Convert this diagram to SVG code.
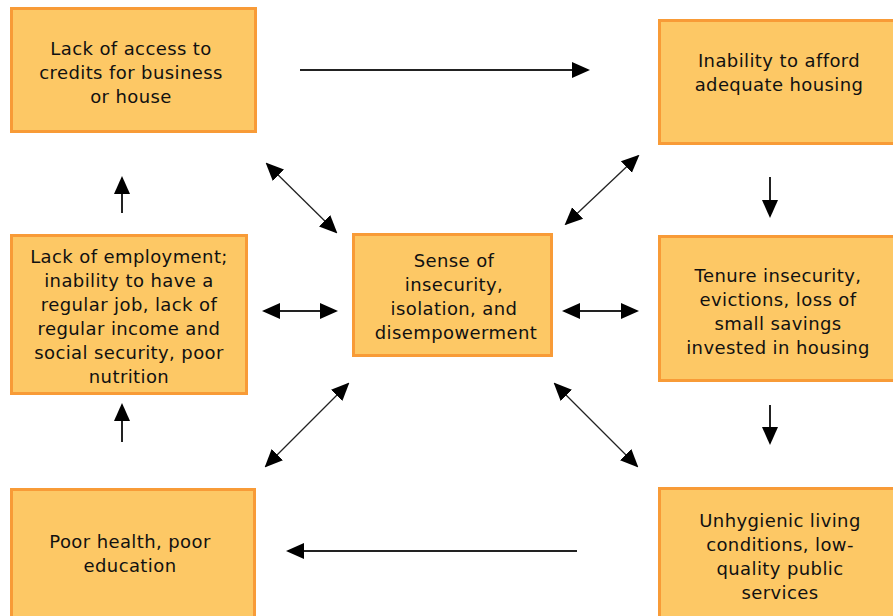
<svg xmlns="http://www.w3.org/2000/svg" width="893" height="616" viewBox="0 0 893 616">
<style>
.box{fill:#FDC865;stroke:#F89B37;stroke-width:3}
.t{font-family:"DejaVu Sans",sans-serif;font-size:18px;letter-spacing:0.4px;fill:#111;text-anchor:middle}
.c{stroke:#222;fill:none}
.th{stroke-width:2}
.tn{stroke-width:1.3}
</style>
<defs>
<marker id="ah" markerUnits="userSpaceOnUse" markerWidth="18" markerHeight="18" refX="16" refY="9" orient="auto-start-reverse" viewBox="0 0 18 18">
<path d="M0,1 L18,9 L0,17 Z" fill="#000"/>
</marker>
</defs>
<rect width="893" height="616" fill="#fff"/>
<g id="n1"><rect class="box" x="11.5" y="8.5" width="244" height="123"/>
<text class="t" x="131" y="55">Lack of access to</text>
<text class="t" x="131" y="79">credits for business</text>
<text class="t" x="131" y="103">or house</text></g>
<g id="n2"><rect class="box" x="659.5" y="20.5" width="250" height="123"/>
<text class="t" x="779" y="67">Inability to afford</text>
<text class="t" x="779" y="91">adequate housing</text></g>
<g id="n3"><rect class="box" x="353.5" y="234.5" width="198" height="121"/>
<text class="t" x="454" y="267">Sense of</text>
<text class="t" x="454" y="291">insecurity,</text>
<text class="t" x="454" y="315">isolation, and</text>
<text class="t" x="456" y="339">disempowerment</text></g>
<g id="n4"><rect class="box" x="11.5" y="235.5" width="235" height="158"/>
<text class="t" x="129" y="263">Lack of employment;</text>
<text class="t" x="129" y="287">inability to have a</text>
<text class="t" x="129" y="311">regular job, lack of</text>
<text class="t" x="129" y="335">regular income and</text>
<text class="t" x="129" y="359">social security, poor</text>
<text class="t" x="129" y="383">nutrition</text></g>
<g id="n5"><rect class="box" x="659.5" y="236.5" width="250" height="144"/>
<text class="t" x="778" y="282">Tenure insecurity,</text>
<text class="t" x="778" y="306">evictions, loss of</text>
<text class="t" x="778" y="330">small savings</text>
<text class="t" x="778" y="354">invested in housing</text></g>
<g id="n6"><rect class="box" x="11.5" y="489.5" width="243" height="140"/>
<text class="t" x="130" y="548">Poor health, poor</text>
<text class="t" x="130" y="572">education</text></g>
<g id="n7"><rect class="box" x="659.5" y="488.5" width="250" height="140"/>
<text class="t" x="780" y="527">Unhygienic living</text>
<text class="t" x="780" y="551">conditions, low-</text>
<text class="t" x="780" y="575">quality public</text>
<text class="t" x="780" y="599">services</text></g>
<g id="connectors">
<line class="c th" x1="300" y1="70" x2="588" y2="70" marker-end="url(#ah)"/>
<line class="c th" x1="577" y1="551" x2="288" y2="551" marker-end="url(#ah)"/>
<line class="c th" x1="122" y1="213" x2="122" y2="178" marker-end="url(#ah)"/>
<line class="c th" x1="122" y1="442" x2="122" y2="405" marker-end="url(#ah)"/>
<line class="c th" x1="770" y1="177" x2="770" y2="216" marker-end="url(#ah)"/>
<line class="c th" x1="770" y1="405" x2="770" y2="443" marker-end="url(#ah)"/>
<line class="c tn" x1="267" y1="164" x2="336" y2="232" marker-start="url(#ah)" marker-end="url(#ah)"/>
<line class="c tn" x1="638" y1="156" x2="566" y2="224" marker-start="url(#ah)" marker-end="url(#ah)"/>
<line class="c th" x1="264" y1="311" x2="336" y2="311" marker-start="url(#ah)" marker-end="url(#ah)"/>
<line class="c th" x1="564" y1="311" x2="637" y2="311" marker-start="url(#ah)" marker-end="url(#ah)"/>
<line class="c tn" x1="348" y1="384" x2="266" y2="466" marker-start="url(#ah)" marker-end="url(#ah)"/>
<line class="c tn" x1="555" y1="384" x2="637" y2="466" marker-start="url(#ah)" marker-end="url(#ah)"/>
</g>
</svg>
